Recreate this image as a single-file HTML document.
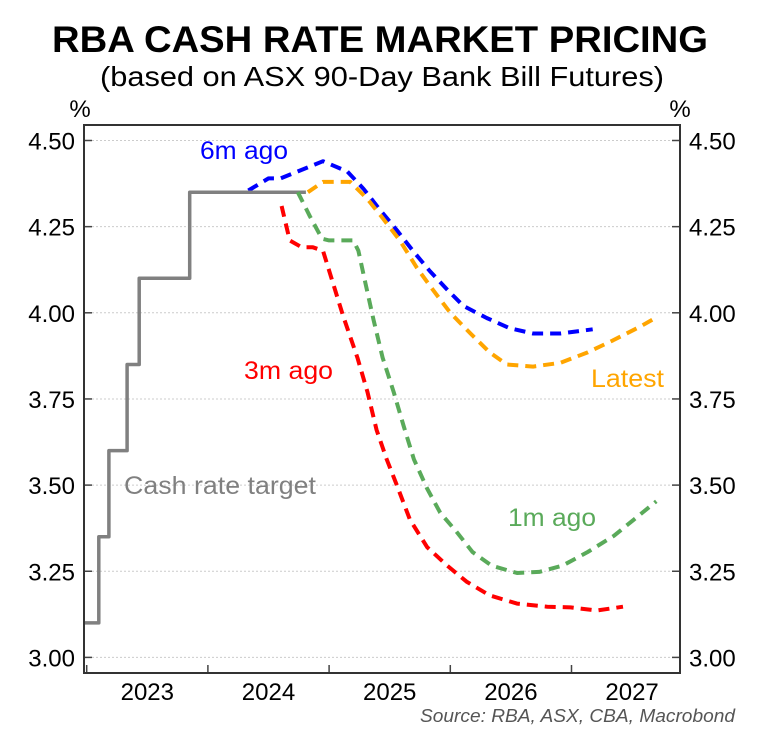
<!DOCTYPE html>
<html><head><meta charset="utf-8"><style>
body{margin:0;background:#fff;width:768px;height:740px;overflow:hidden}
svg{display:block;font-family:"Liberation Sans",Arial,sans-serif}
</style></head><body>
<svg id="chart" width="768" height="740" viewBox="0 0 768 740">
<text x="380" y="52" text-anchor="middle" font-size="37" font-weight="bold" textLength="656" lengthAdjust="spacingAndGlyphs">RBA CASH RATE MARKET PRICING</text>
<text x="382" y="86" text-anchor="middle" font-size="28" textLength="564" lengthAdjust="spacingAndGlyphs">(based on ASX 90-Day Bank Bill Futures)</text>
<text x="80" y="117" text-anchor="middle" font-size="24">%</text>
<text x="680" y="117" text-anchor="middle" font-size="24">%</text>
<g id="grid"></g><g id="series"></g><g id="axes"></g>
<text x="200" y="159" font-size="25" fill="#0000ff" textLength="88" lengthAdjust="spacingAndGlyphs">6m ago</text>
<text x="244" y="379" font-size="25" fill="#ff0000" textLength="89" lengthAdjust="spacingAndGlyphs">3m ago</text>
<text x="591" y="387" font-size="25" fill="#ffa500" textLength="73" lengthAdjust="spacingAndGlyphs">Latest</text>
<text x="508" y="526" font-size="25" fill="#5aaa5a" textLength="88" lengthAdjust="spacingAndGlyphs">1m ago</text>
<text x="124" y="494" font-size="25" fill="#808080" textLength="192" lengthAdjust="spacingAndGlyphs">Cash rate target</text>
<text x="735" y="722" text-anchor="end" font-size="18" font-style="italic" fill="#555" textLength="315" lengthAdjust="spacingAndGlyphs">Source: RBA, ASX, CBA, Macrobond</text>
</svg>
<script>
// months since Jan 2023
const yTicks=[3.00,3.25,3.50,3.75,4.00,4.25,4.50];
const yearLabels=["2023","2024","2025","2026","2027"];
const cashMonths=[-0.2,1.2,1.2,2.2,2.2,4.0,4.0,5.2,5.2,10.2,10.2,21.7];
const cashValues=[3.10,3.10,3.35,3.35,3.60,3.60,3.85,3.85,4.10,4.10,4.35,4.35];
const m6Months=[16,18,19.2,23.4,25.8,27.4,29.0,30.7,32.3,34.0,35.7,37.3,39.6,41.9,44.2,46.9,50.1];
const m6Values=[4.355,4.39,4.39,4.44,4.41,4.36,4.30,4.24,4.18,4.12,4.067,4.02,3.985,3.955,3.94,3.94,3.952];
const m3Months=[19.3,20.1,21.3,22.4,23.4,24.4,25.4,26.8,27.8,28.7,29.7,30.7,32.0,33.7,35.7,37.6,39.9,42.6,45.6,47.9,50.5,53.1];
const m3Values=[4.31,4.21,4.19,4.19,4.18,4.085,3.99,3.87,3.77,3.66,3.575,3.50,3.40,3.32,3.266,3.22,3.18,3.156,3.147,3.145,3.136,3.147];
const m1Months=[20.9,22.1,23.3,24.0,26.4,26.9,27.6,28.4,29.3,30.4,31.4,32.4,33.7,35.0,36.6,38.2,40.1,42.6,44.8,47.1,49.6,52.2,54.6,56.4];
const m1Values=[4.35,4.28,4.215,4.21,4.21,4.18,4.085,3.98,3.87,3.77,3.67,3.575,3.49,3.42,3.365,3.306,3.266,3.245,3.248,3.266,3.306,3.353,3.41,3.453];
const latMonths=[21.9,23.4,26.1,27.8,29.3,31.0,32.7,34.3,36.0,38.0,39.9,41.6,44.2,46.9,49.6,52.1,54.8,56.3];
const latValues=[4.35,4.38,4.38,4.33,4.275,4.21,4.13,4.066,4.00,3.94,3.885,3.85,3.844,3.855,3.885,3.92,3.96,3.985];

const L=84,R=680,T=125,B=673;
const x=m=>86.7+m*(121.2/12);
const y=v=>140.5+(4.5-v)*344.6;
const NS="http://www.w3.org/2000/svg";
function mk(tag,attrs,parent){const e=document.createElementNS(NS,tag);for(const k in attrs)e.setAttribute(k,attrs[k]);parent.appendChild(e);return e;}
const grid=document.getElementById('grid'),axes=document.getElementById('axes'),ser=document.getElementById('series');
yTicks.forEach(v=>{
  const g=mk('line',{x1:L,x2:R,y1:y(v),y2:y(v),stroke:'#ccc','stroke-width':1,'stroke-dasharray':'2,2'},grid);
  
  
  const t1=mk('line',{x1:L,x2:L+8,y1:y(v),y2:y(v),stroke:'#444','stroke-width':1.5},axes);
  
  
  const t2=mk('line',{x1:R-8,x2:R,y1:y(v),y2:y(v),stroke:'#444','stroke-width':1.5},axes);
  
  
  const a=mk('text',{x:L-9,y:y(v)+9,'text-anchor':'end','font-size':24},axes);a.textContent=v.toFixed(2);
  
  
  const b=mk('text',{x:R+9,y:y(v)+9,'font-size':24},axes);b.textContent=v.toFixed(2);
  
  
});
yearLabels.forEach((lab,i)=>{
  const tk=mk('line',{x1:x(i*12),x2:x(i*12),y1:B,y2:B-8,stroke:'#444','stroke-width':1.5},axes);
  
  
  const t=mk('text',{x:x(i*12+6),y:700,'text-anchor':'middle','font-size':24},axes);t.textContent=lab;
  
  
});
const box=mk('rect',{x:L,y:T,width:R-L,height:B-T,fill:'none',stroke:'#333','stroke-width':2},axes);


function line(ms,vs,color,dash,name){
  const d=ms.map((m,i)=>(i?'L':'M')+x(m).toFixed(1)+','+y(vs[i]).toFixed(1)).join(' ');
  const p=mk('path',{d:d,fill:'none',stroke:color,'stroke-width':dash?4:3.5,'stroke-linejoin':'round'},ser);
  if(dash)p.setAttribute('stroke-dasharray','11,7');
  
  
}
line(m6Months,m6Values,'#0000ff',true,'series-6m-ago');
line(cashMonths,cashValues,'#808080',false,'series-cash-rate-target');
line(m3Months,m3Values,'#ff0000',true,'series-3m-ago');
line(m1Months,m1Values,'#5aaa5a',true,'series-1m-ago');
line(latMonths,latValues,'#ffa500',true,'series-latest');
</script>
</body></html>
